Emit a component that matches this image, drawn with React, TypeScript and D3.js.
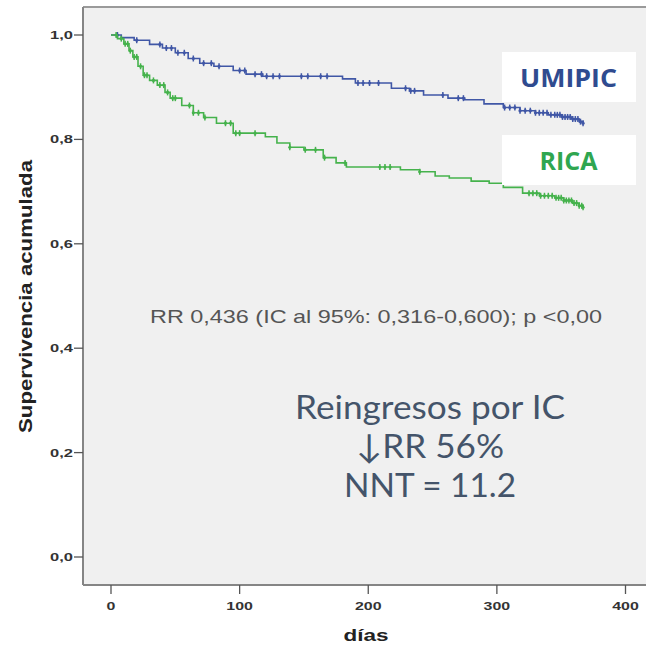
import React, { useRef, useEffect } from 'react';
import * as d3 from 'd3';

// Kaplan-Meier steps: [day, cumulative survival]
const umipicSteps: [number, number][] = [
  [0, 1.0], [8, 0.995], [18, 0.99], [30, 0.982], [40, 0.975], [50, 0.966],
  [60, 0.955], [69, 0.946], [80, 0.94], [95, 0.932], [105, 0.925], [118, 0.921],
  [180, 0.916], [190, 0.908], [218, 0.898], [232, 0.893], [243, 0.885],
  [262, 0.879], [275, 0.876], [290, 0.868], [305, 0.861], [318, 0.855],
  [330, 0.851], [340, 0.847], [350, 0.843], [358, 0.839], [364, 0.834], [367, 0.831],
];

const ricaSteps: [number, number][] = [
  [0, 1.0], [5, 0.993], [10, 0.983], [14, 0.97], [17, 0.958], [21, 0.94],
  [25, 0.923], [30, 0.913], [36, 0.904], [42, 0.89], [46, 0.879], [55, 0.865],
  [64, 0.851], [72, 0.842], [82, 0.831], [95, 0.812], [120, 0.805], [129, 0.793],
  [139, 0.785], [150, 0.78], [165, 0.765], [175, 0.755], [183, 0.747],
  [225, 0.742], [240, 0.738], [252, 0.73], [263, 0.726], [280, 0.72],
  [294, 0.716], [305, 0.708], [320, 0.697], [333, 0.692], [345, 0.688],
  [352, 0.683], [359, 0.678], [364, 0.673], [367, 0.67],
];

// censored cases (tick marks)
const umipicCensor = [
  5, 20, 38, 43, 47, 52, 57, 64, 72, 78, 84, 100, 104, 112, 117, 121, 126,
  131, 148, 153, 163, 168, 192, 196, 201, 208, 229, 233, 236, 258, 270, 274,
  306, 310, 314, 318, 322, 326, 330, 333, 336, 339, 342, 345, 347, 349, 351,
  353, 355, 357, 359, 361, 363, 365, 367,
];
const ricaCensor = [
  4, 8, 11, 13, 15, 18, 20, 23, 26, 28, 33, 38, 41, 44, 48, 50, 61, 64, 68,
  73, 89, 93, 97, 100, 112, 139, 151, 159, 166, 182, 209, 213, 217, 240,
  325, 328, 331, 334, 337, 340, 343, 346, 348, 350, 352, 354, 356, 358, 360,
  362, 364, 366, 367,
];

const xTicks = [0, 100, 200, 300, 400];
const yTicks = [0, 0.2, 0.4, 0.6, 0.8, 1.0];

const series = [
  { name: 'UMIPIC', steps: umipicSteps, censor: umipicCensor, color: '#4057a6', label: '#2f4b8f' },
  { name: 'RICA', steps: ricaSteps, censor: ricaCensor, color: '#45b24c', label: '#2fa650' },
];

const App = () => {
  const ref = useRef<SVGSVGElement>(null);

  useEffect(() => {
    const svg = d3.select(ref.current);
    svg.selectAll('*').remove();

    const x = d3.scaleLinear().domain([0, 400]).range([111, 625.5]);
    const y = d3.scaleLinear().domain([0, 1]).range([557, 35]);

    const plot = { left: 83, top: 7, right: 646, bottom: 585 };

    // plot background + frame
    svg.append('rect')
      .attr('x', plot.left).attr('y', plot.top)
      .attr('width', plot.right - plot.left).attr('height', plot.bottom - plot.top)
      .attr('fill', '#f0f0f0');
    svg.append('line')
      .attr('x1', plot.left).attr('x2', plot.right).attr('y1', plot.top).attr('y2', plot.top)
      .attr('stroke', '#9a9a9a').attr('stroke-width', 2);
    svg.append('line')
      .attr('x1', plot.left).attr('x2', plot.left).attr('y1', plot.top).attr('y2', plot.bottom)
      .attr('stroke', '#858585').attr('stroke-width', 2);
    svg.append('line')
      .attr('x1', plot.left).attr('x2', plot.right).attr('y1', plot.bottom).attr('y2', plot.bottom)
      .attr('stroke', '#858585').attr('stroke-width', 2);

    // y axis ticks
    const fmt = (d: number) => d3.format('.1f')(d).replace('.', ',');
    yTicks.forEach(t => {
      svg.append('line')
        .attr('x1', plot.left - 9).attr('x2', plot.left)
        .attr('y1', y(t)).attr('y2', y(t))
        .attr('stroke', '#555').attr('stroke-width', 1.3);
      svg.append('text')
        .attr('transform', `translate(${plot.left - 10},${y(t) + 4}) scale(1.5,1)`)
        .attr('text-anchor', 'end')
        .attr('font-family', 'Liberation Sans, Arial, sans-serif')
        .attr('font-weight', 'bold')
        .attr('font-size', 11)
        .attr('fill', '#333')
        .text(fmt(t));
    });

    // x axis ticks
    xTicks.forEach(t => {
      svg.append('line')
        .attr('x1', x(t)).attr('x2', x(t))
        .attr('y1', plot.bottom).attr('y2', plot.bottom + 9)
        .attr('stroke', '#555').attr('stroke-width', 1.3);
      svg.append('text')
        .attr('transform', `translate(${x(t)},${plot.bottom + 25}) scale(1.45,1)`)
        .attr('text-anchor', 'middle')
        .attr('font-family', 'Liberation Sans, Arial, sans-serif')
        .attr('font-weight', 'bold')
        .attr('font-size', 11)
        .attr('fill', '#333')
        .text(String(t));
    });

    // axis titles
    svg.append('text')
      .attr('x', 366).attr('y', 641)
      .attr('text-anchor', 'middle')
      .attr('font-family', 'Liberation Sans, Arial, sans-serif')
      .attr('font-weight', 'bold')
      .attr('font-size', 16)
      .attr('fill', '#222')
      .attr('textLength', 45).attr('lengthAdjust', 'spacingAndGlyphs')
      .text('días');
    svg.append('text')
      .attr('transform', 'translate(32,296.5) rotate(-90)')
      .attr('text-anchor', 'middle')
      .attr('font-family', 'Liberation Sans, Arial, sans-serif')
      .attr('font-weight', 'bold')
      .attr('font-size', 18)
      .attr('fill', '#222')
      .attr('textLength', 273).attr('lengthAdjust', 'spacingAndGlyphs')
      .text('Supervivencia acumulada');

    // curves
    const line = d3.line<[number, number]>()
      .x(d => x(d[0]))
      .y(d => y(d[1]))
      .curve(d3.curveStepAfter);
    const bis = d3.bisector((d: [number, number]) => d[0]).right;

    series.forEach(s => {
      svg.append('path')
        .datum(s.steps)
        .attr('fill', 'none')
        .attr('stroke', s.color)
        .attr('stroke-width', 1.6)
        .attr('d', line);
      const g = svg.append('g');
      g.selectAll('line')
        .data(s.censor)
        .enter()
        .append('line')
        .attr('x1', d => x(d)).attr('x2', d => x(d))
        .attr('y1', d => y(s.steps[Math.max(0, bis(s.steps, d) - 1)][1]) - 3)
        .attr('y2', d => y(s.steps[Math.max(0, bis(s.steps, d) - 1)][1]) + 3)
        .attr('stroke', s.color)
        .attr('stroke-width', 1.5);
      g.selectAll('circle')
        .data(s.censor)
        .enter()
        .append('circle')
        .attr('cx', d => x(d))
        .attr('cy', d => y(s.steps[Math.max(0, bis(s.steps, d) - 1)][1]))
        .attr('r', 1.6)
        .attr('fill', s.color);
    });

    // legend boxes
    const boxes = [
      { s: series[0], y0: 52, base: 87, len: 97 },
      { s: series[1], y0: 135, base: 170, len: 58 },
    ];
    boxes.forEach(b => {
      svg.append('rect')
        .attr('x', 502).attr('y', b.y0)
        .attr('width', 134).attr('height', 50)
        .attr('fill', '#ffffff');
      svg.append('text')
        .attr('x', 568.5).attr('y', b.base)
        .attr('text-anchor', 'middle')
        .attr('font-family', 'Open Sans, sans-serif')
        .attr('font-weight', 'bold')
        .attr('font-size', 25)
        .attr('fill', b.s.label)
        .attr('textLength', b.len).attr('lengthAdjust', 'spacingAndGlyphs')
        .text(b.s.name);
    });

    // statistics text
    svg.append('text')
      .attr('x', 376).attr('y', 323)
      .attr('text-anchor', 'middle')
      .attr('font-family', 'Liberation Sans, Arial, sans-serif')
      .attr('font-size', 19)
      .attr('fill', '#555')
      .attr('textLength', 452).attr('lengthAdjust', 'spacingAndGlyphs')
      .text('RR 0,436 (IC al 95%: 0,316-0,600); p <0,00');

    const big = [
      { t: 'Reingresos por IC', base: 419, len: 270 },
      { t: '↓RR 56%', base: 458, len: 148 },
      { t: 'NNT = 11.2', base: 497, len: 172 },
    ];
    big.forEach(b => {
      svg.append('text')
        .attr('x', 430).attr('y', b.base)
        .attr('text-anchor', 'middle')
        .attr('font-family', 'Lato, Open Sans, sans-serif')
        .attr('font-size', 33)
        .attr('fill', '#44546a')
        .attr('textLength', b.len).attr('lengthAdjust', 'spacingAndGlyphs')
        .text(b.t);
    });
  }, []);

  return (
    <svg ref={ref} width={646} height={646}
      style={{ position: 'absolute', left: 0, top: 0, background: '#fff' }} />
  );
};

export default App;
